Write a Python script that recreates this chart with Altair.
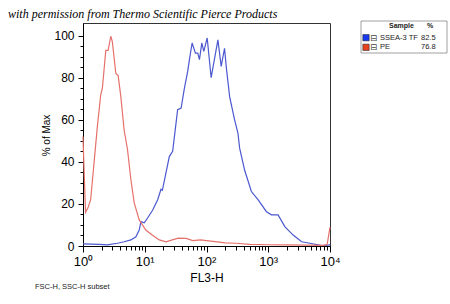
import altair as alt
import pandas as pd

# ---- data ----
blue_x = [1.0, 1.82, 2.48, 3.61, 4.64, 5.97, 7.19, 8.14, 8.67, 9.81, 11.1, 13.4, 16.2, 18.3, 19.3,
          25.0, 28.3, 34.1, 38.8, 43.9, 49.6, 52.9, 58.5, 66.2, 72.2, 76.9, 83.9, 90.4, 102.6,
          119, 153, 173, 196, 209, 237, 285, 323, 344, 415, 533, 683, 935, 1127, 1443, 1854,
          2531, 3465, 4730, 7330, 10000]
blue_y = [1.0, 0.8, 0.5, 1.3, 2.0, 2.9, 4.4, 7.6, 11.6, 11.0, 13.3, 17.0, 22.0, 27.0, 26.5,
          42.5, 45.0, 64.8, 65.6, 75.0, 83.0, 88.6, 96.5, 91.7, 91.7, 88.6, 96.5, 92.5, 98.9,
          80.0, 98.0, 85.4, 94.0, 85.0, 71.0, 60.0, 53.7, 46.5, 36.0, 25.9, 22.0, 16.3, 14.8,
          14.8, 9.2, 5.2, 2.0, 1.3, 0.2, 0.5]

red_x = [1.0, 1.03, 1.1, 1.2, 1.33, 1.51, 1.71, 1.94, 2.06, 2.34, 2.55, 2.82, 2.99, 3.40, 3.71,
         4.10, 4.64, 5.25, 5.97, 6.75, 8.14, 10.4, 13.2, 17.2, 22.1, 28, 35, 46.8, 60, 80,
         100, 150, 200, 300, 500, 1000, 2000, 4000, 8000, 9000, 10000]
red_y = [52, 40, 16, 18, 22, 39.5, 57, 72, 75, 93, 93, 99.7, 97, 82, 81,
         71, 55, 46, 31.5, 20.5, 12.4, 7.6, 5.2, 2.9, 2.0, 2.9, 3.7, 3.6, 2.6, 2.9,
         2.6, 2.0, 1.5, 1.3, 0.8, 0.6, 0.5, 0.4, 0.3, 0.8, 9.0]

samples = ["SSEA-3 TF", "PE"]
percents = ["82.5", "76.8"]
line_colors = ["#4b58cf", "#e5716b"]
legend_colors = ["#1538f0", "#e8411d"]

y_ticks = list(range(0, 101, 5))
decades = [1, 10, 100, 1000, 10000]
decade_labels = ["10\u2070", "10\u00b9", "10\u00b2", "10\u00b3", "10\u2074"]
x_ticks = [m * d for d in [1, 10, 100, 1000] for m in range(1, 10)] + [10000]

df = pd.concat([
    pd.DataFrame({"x": blue_x, "y": blue_y, "sample": samples[0]}),
    pd.DataFrame({"x": red_x, "y": red_y, "sample": samples[1]}),
])

W, H = 247, 223
FONT = "Liberation Sans"

lab_expr = " : ".join(
    f"datum.value == {d} ? '{l}'" for d, l in zip(decades, decade_labels)
) + " : ''"
major_test = "indexof([" + ",".join(str(d) for d in decades) + "], datum.value) >= 0"

lines = alt.Chart(df).mark_line(strokeWidth=1.2, clip=False).encode(
    x=alt.X("x:Q", scale=alt.Scale(type="log", domain=[1, 10000]),
            axis=alt.Axis(values=x_ticks, labelExpr=lab_expr, labelFlush=False,
                          labelOverlap=False, grid=False,
                          tickSize={"condition": {"test": major_test, "value": 6}, "value": 4},
                          tickColor="black", domainColor="black", labelColor="black",
                          labelFont=FONT, labelFontSize=13, labelPadding=3,
                          title="FL3-H", titleFont=FONT, titleFontSize=12,
                          titleFontWeight="normal", titleColor="black", titlePadding=4)),
    y=alt.Y("y:Q", scale=alt.Scale(domain=[0, 106], nice=False, zero=True),
            axis=alt.Axis(values=y_ticks,
                          labelExpr="datum.value % 20 === 0 ? datum.label : ''",
                          grid=False,
                          tickSize={"condition": {"test": "datum.value % 20 === 0", "value": 5}, "value": 3},
                          tickColor="black", domainColor="black", labelColor="black",
                          labelFont=FONT, labelFontSize=12, labelPadding=4,
                          title="% of Max", titleFont=FONT, titleFontSize=10,
                          titleFontWeight="normal", titleColor="black",
                          titleX=-37, titleY=112, titleAngle=-90,
                          titleAlign="center", titleBaseline="middle")),
    color=alt.Color("sample:N", scale=alt.Scale(domain=samples, range=line_colors), legend=None),
    order=alt.Order("x:Q"),
)

one = pd.DataFrame({"a": [0]})

title = alt.Chart(one).mark_text(
    text="with permission from Thermo Scientific Pierce Products",
    font="Liberation Serif", fontStyle="italic", fontSize=12, align="left",
    baseline="alphabetic", color="black"
).encode(x=alt.value(-75), y=alt.value(-5))

subset = alt.Chart(one).mark_text(
    text="FSC-H, SSC-H subset", font=FONT, fontSize=7.5, align="left",
    baseline="middle", color="#222"
).encode(x=alt.value(-48), y=alt.value(264))

box = alt.Chart(one).mark_rect(fill="white", stroke="#888", strokeWidth=0.8).encode(
    x=alt.value(278), x2=alt.value(364), y=alt.value(-2), y2=alt.value(30))

hdr1 = alt.Chart(one).mark_text(text="Sample", font=FONT, fontSize=7, fontWeight="bold",
                                align="left", baseline="middle", color="#222").encode(
    x=alt.value(306), y=alt.value(3))
hdr2 = alt.Chart(one).mark_text(text="%", font=FONT, fontSize=7, fontWeight="bold",
                                align="left", baseline="middle", color="#222").encode(
    x=alt.value(344), y=alt.value(3))

layers = [lines, title, subset, box, hdr1, hdr2]
row_y = [14.7, 24.3]
for s, p, c, ry in zip(samples, percents, legend_colors, row_y):
    layers.append(alt.Chart(one).mark_square(size=40, fill=c, stroke="#333", strokeWidth=0.6,
                                             opacity=1).encode(
        x=alt.value(283), y=alt.value(ry)))
    layers.append(alt.Chart(one).mark_text(text="\u229f", font="DejaVu Sans", fontSize=8.5,
                                           align="center", baseline="middle", color="#444").encode(
        x=alt.value(290.5), y=alt.value(ry)))
    layers.append(alt.Chart(one).mark_text(text=s, font=FONT, fontSize=7.5, align="left",
                                           baseline="middle", color="#222").encode(
        x=alt.value(297), y=alt.value(ry)))
    layers.append(alt.Chart(one).mark_text(text=p, font=FONT, fontSize=7.5, align="left",
                                           baseline="middle", color="#222").encode(
        x=alt.value(338), y=alt.value(ry)))

chart = alt.layer(*layers).properties(
    width=W, height=H,
    autosize=alt.AutoSizeParams(type="none"),
    padding={"left": 83, "top": 23, "right": 450 - 83 - W, "bottom": 304 - 23 - H},
    background="white",
).configure_view(stroke="#333", strokeWidth=1)

chart.save("out.html", embed_options={"renderer": "svg", "actions": False})
